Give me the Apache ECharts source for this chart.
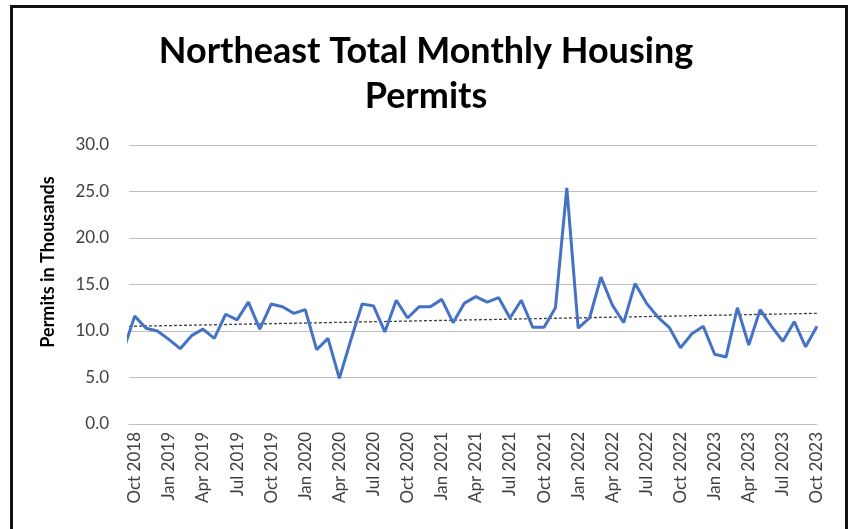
<!DOCTYPE html>
<html>
<head>
<meta charset="utf-8">
<script src="https://cdn.jsdelivr.net/npm/echarts@6/dist/echarts.min.js"></script>
<style>
  html, body { margin: 0; padding: 0; background: #fff; }
  #chart { position: absolute; left: 0; top: 0; width: 852px; height: 529px; }
  #frame { position: absolute; left: 10px; top: 5px; width: 838px; height: 600px;
           box-sizing: border-box; border: 3px solid #111; pointer-events: none; }
</style>
</head>
<body>
<div id="chart"></div>
<div id="frame"></div>
<script>
// months, Sep 2018 .. Oct 2023 (Sep 2018 sits just left of the plot and is clipped)
const months = [
  'Sep 2018','Oct 2018','Nov 2018','Dec 2018',
  'Jan 2019','Feb 2019','Mar 2019','Apr 2019','May 2019','Jun 2019','Jul 2019','Aug 2019','Sep 2019','Oct 2019','Nov 2019','Dec 2019',
  'Jan 2020','Feb 2020','Mar 2020','Apr 2020','May 2020','Jun 2020','Jul 2020','Aug 2020','Sep 2020','Oct 2020','Nov 2020','Dec 2020',
  'Jan 2021','Feb 2021','Mar 2021','Apr 2021','May 2021','Jun 2021','Jul 2021','Aug 2021','Sep 2021','Oct 2021','Nov 2021','Dec 2021',
  'Jan 2022','Feb 2022','Mar 2022','Apr 2022','May 2022','Jun 2022','Jul 2022','Aug 2022','Sep 2022','Oct 2022','Nov 2022','Dec 2022',
  'Jan 2023','Feb 2023','Mar 2023','Apr 2023','May 2023','Jun 2023','Jul 2023','Aug 2023','Sep 2023','Oct 2023'
]
// permits in thousands
const permits = [
  7.9, 11.6, 10.3, 10.0,
  9.1, 8.1, 9.5, 10.2, 9.2, 11.8, 11.2, 13.1, 10.2, 12.9, 12.6, 11.9,
  12.3, 8.0, 9.2, 4.9, 9.0, 12.9, 12.7, 9.9, 13.3, 11.4, 12.6, 12.6,
  13.4, 10.9, 13.0, 13.7, 13.1, 13.6, 11.4, 13.3, 10.4, 10.4, 12.5, 25.4,
  10.3, 11.4, 15.8, 12.8, 10.9, 15.1, 13.0, 11.5, 10.4, 8.2, 9.7, 10.5,
  7.5, 7.2, 12.5, 8.5, 12.3, 10.5, 8.9, 11.0, 8.3, 10.5
]
// linear trendline ends (left plot edge, Oct 2023)
const trendEnds = [10.5, 11.9]

// x index 0 = Oct 2018
const lineData = permits.map((v, i) => [i - 1, v])
const lastIdx = months.length - 2
const trendData = [[-0.5, trendEnds[0]], [lastIdx, trendEnds[1]]]
const labelIdx = []
for (let i = 0; i <= lastIdx; i += 3) labelIdx.push(i)

let myChart = echarts.init(document.getElementById('chart'))
let option = {
  animation: false,
  title: {
    text: 'Northeast Total Monthly Housing\nPermits',
    left: 'center',
    top: 24,
    textStyle: {
      fontFamily: 'Lato',
      fontWeight: 'bold',
      fontSize: 36,
      lineHeight: 45,
      color: '#000'
    }
  },
  grid: { left: 129, right: 35, top: 145, bottom: 105 },
  xAxis: {
    type: 'value',
    min: -0.5,
    max: lastIdx,
    splitLine: { show: false },
    axisLine: { show: true, lineStyle: { color: '#bfbfbf', width: 1 } },
    axisTick: { show: false },
    axisLabel: {
      customValues: labelIdx,
      rotate: 90,
      color: '#404040',
      fontFamily: 'Lato',
      fontSize: 17,
      margin: 8,
      formatter: v => months[Math.round(v) + 1]
    }
  },
  yAxis: {
    type: 'value',
    min: 0,
    max: 30,
    interval: 5,
    axisLine: { show: false },
    axisTick: { show: false },
    splitLine: { lineStyle: { color: '#bfbfbf', width: 1 } },
    axisLabel: {
      color: '#404040',
      fontFamily: 'Lato',
      fontSize: 17,
      margin: 20,
      formatter: v => v.toFixed(1)
    }
  },
  graphic: [{
    type: 'text',
    x: 48,
    y: 262,
    rotation: Math.PI / 2,
    style: {
      text: 'Permits in Thousands',
      fontFamily: 'Lato',
      fontWeight: 'bold',
      fontSize: 18,
      fill: '#000',
      align: 'center',
      verticalAlign: 'middle'
    }
  }],
  series: [
    {
      name: 'Permits',
      type: 'line',
      data: lineData,
      showSymbol: false,
      clip: true,
      lineStyle: { color: '#4472c4', width: 3 },
      z: 3
    },
    {
      name: 'Trend',
      type: 'line',
      data: trendData,
      showSymbol: false,
      clip: true,
      lineStyle: { color: '#404040', width: 1.3, type: [3, 2] },
      z: 2
    }
  ]
}
myChart.setOption(option)
</script>
</body>
</html>
